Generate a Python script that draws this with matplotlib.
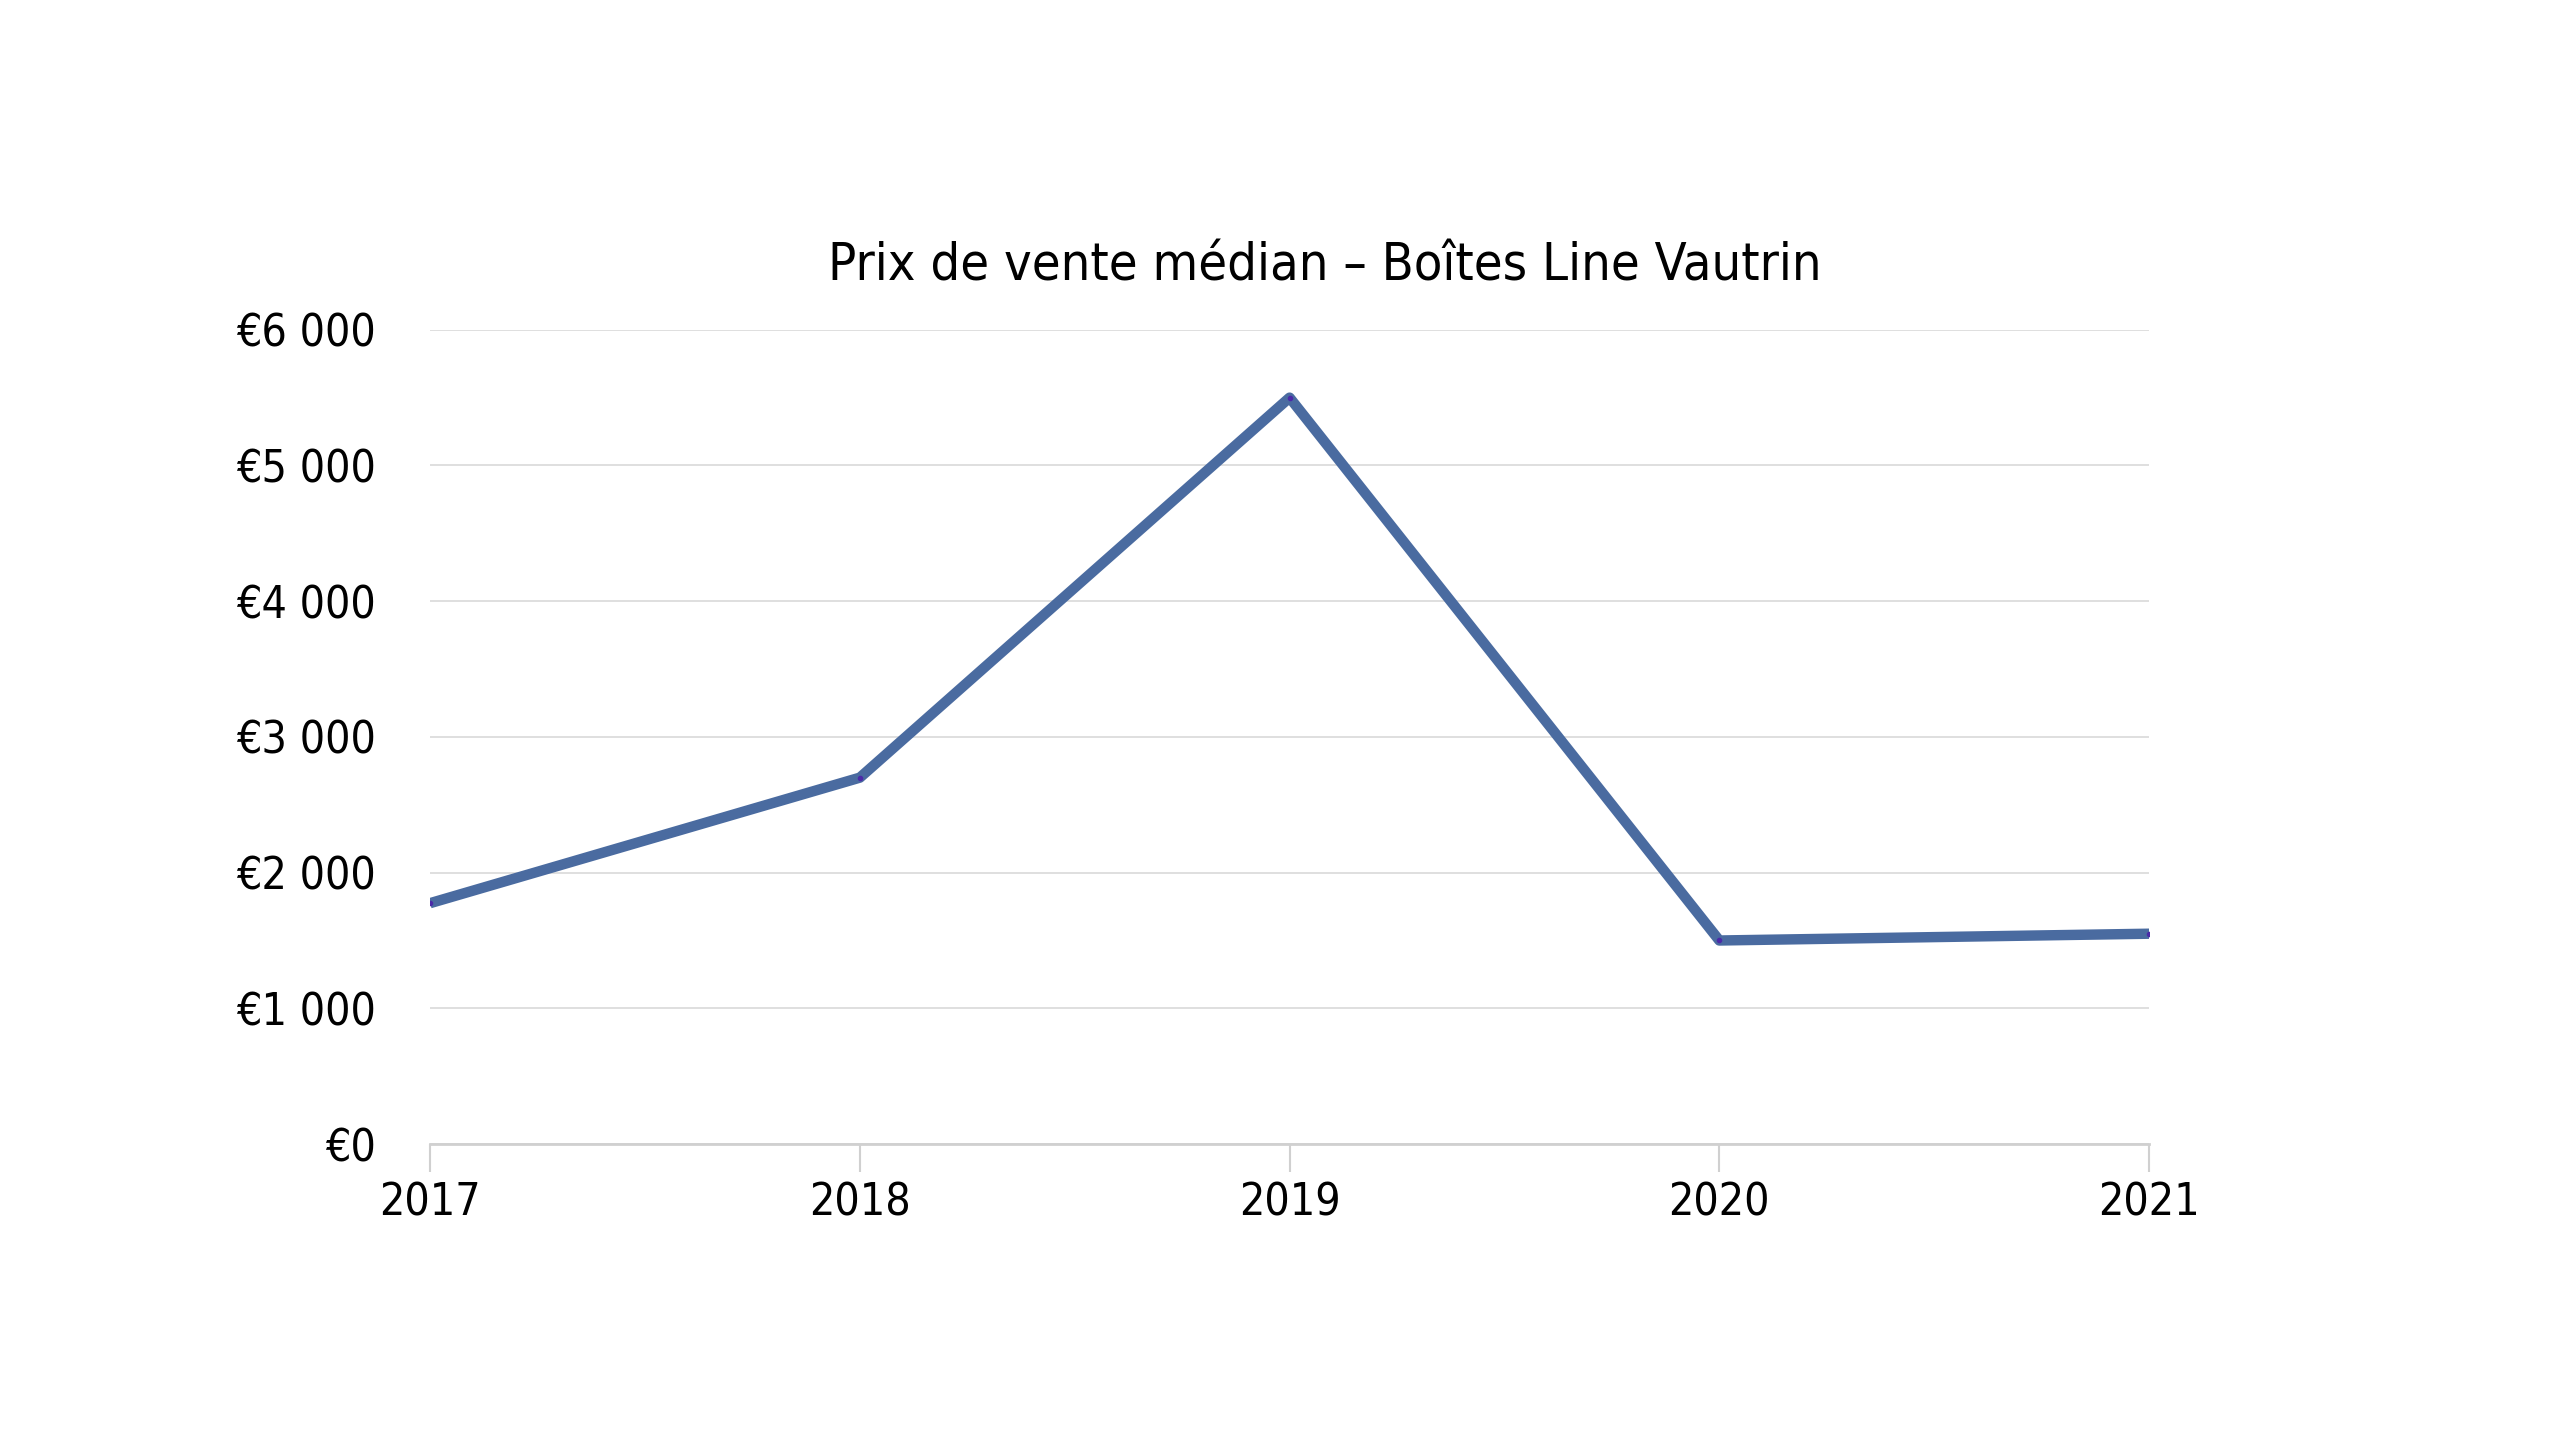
import matplotlib.pyplot as plt
from matplotlib.ticker import FuncFormatter

years = ["2017", "2018", "2019", "2020", "2021"]
prices = [1775, 2700, 5500, 1500, 1550]
y_ticks = [0, 1000, 2000, 3000, 4000, 5000, 6000]

plt.rcParams["font.family"] = ["DejaVu Sans"]
plt.rcParams["font.stretch"] = "condensed"

fig = plt.figure(figsize=(25.6, 14.4), dpi=100)
ax = fig.add_axes([0.168, 0.2055, 0.6715, 0.5655])

x = list(range(len(years)))
ax.plot(x, prices, color="#4a6ba0", linewidth=7.5, solid_capstyle="butt",
        marker="o", markersize=3, markerfacecolor="#4b2aa8", markeredgecolor="#4b2aa8")

ax.set_xlim(0, len(years) - 1)
ax.set_ylim(0, 6000)
ax.set_xticks(x)
ax.set_xticklabels(years)
ax.set_yticks(y_ticks)
ax.yaxis.set_major_formatter(FuncFormatter(lambda v, p: "€" + f"{v:,.0f}".replace(",", " ")))

ax.grid(axis="y", color="#d9d9d9", linewidth=1.2)
ax.set_axisbelow(True)
for s in ["top", "right", "left"]:
    ax.spines[s].set_visible(False)
ax.spines["bottom"].set_color("#d0d0d0")
ax.spines["bottom"].set_linewidth(2)

ax.tick_params(axis="y", length=0, pad=39, labelsize=32)
ax.tick_params(axis="x", length=20, width=1.5, color="#d0d0d0", pad=7, labelsize=32)
for lbl in ax.get_xticklabels() + ax.get_yticklabels():
    lbl.set_fontstretch("condensed")

fig.text(0.5175, 0.815, "Prix de vente médian – Boîtes Line Vautrin", ha="center", va="center",
         fontsize=37.5, fontstretch="condensed")

fig.savefig("out.png", dpi=100)
